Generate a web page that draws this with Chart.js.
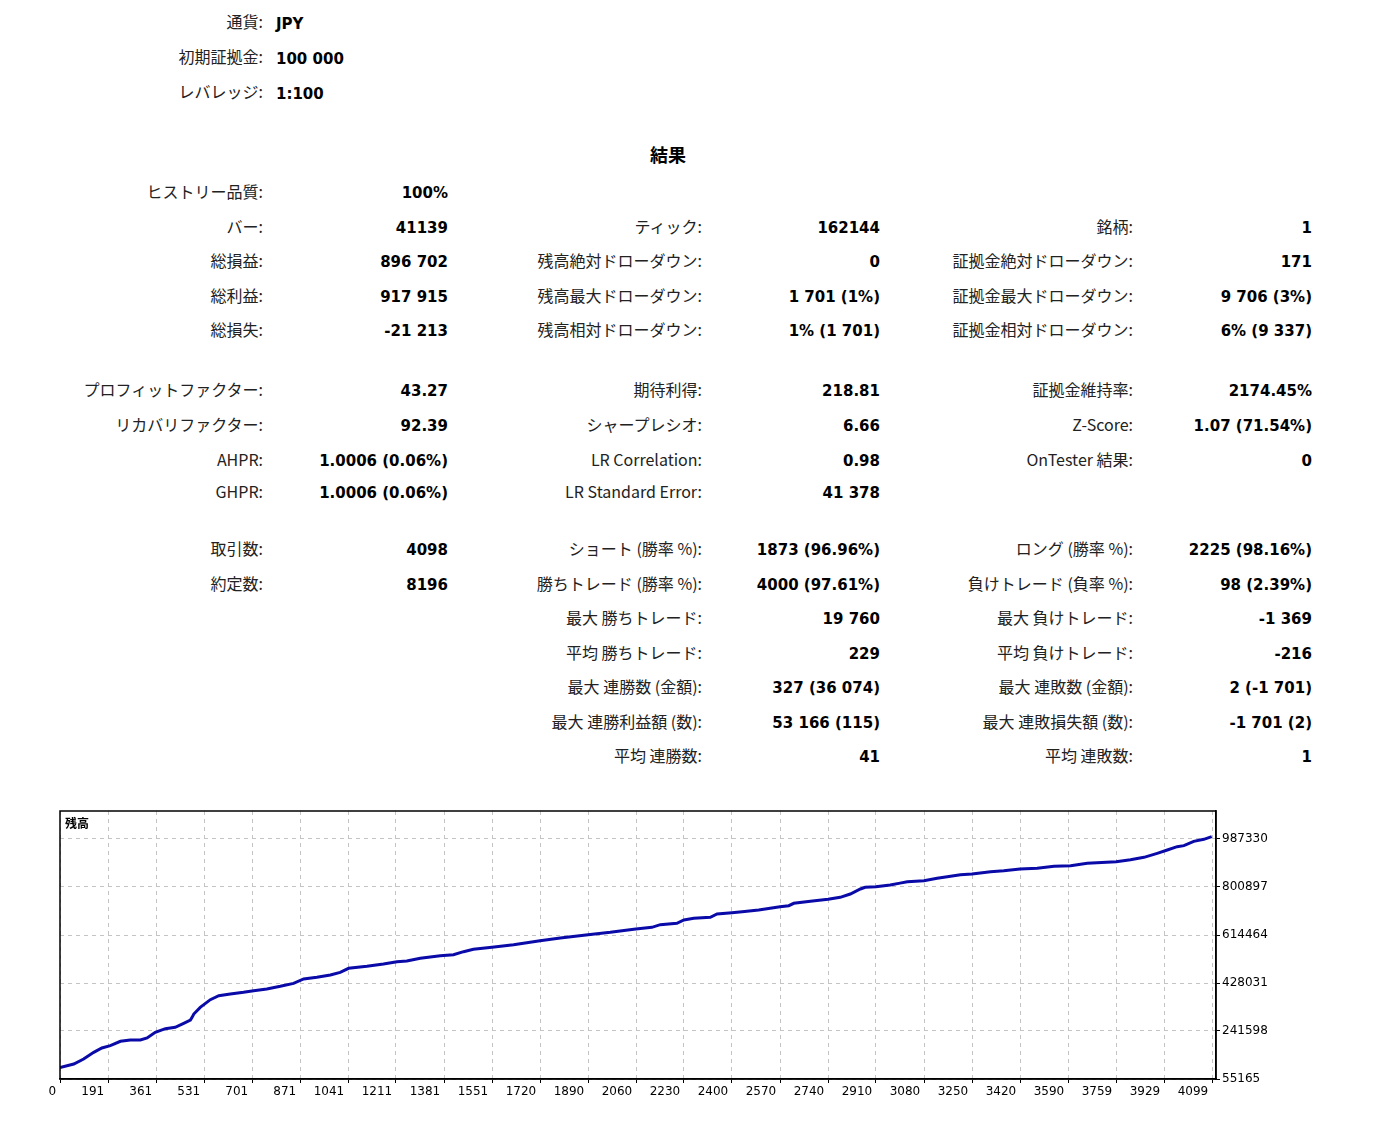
<!DOCTYPE html>
<html>
<head>
<meta charset="utf-8">
<script src="https://cdn.jsdelivr.net/npm/chart.js@4.4.0/dist/chart.umd.min.js"></script>
<style>
  html, body { margin:0; padding:0; background:#fff; }
  body { width:1386px; height:1128px; position:relative; overflow:hidden; }
  .lbl { position:absolute; white-space:nowrap; text-align:right; font-family:"Noto Sans CJK JP","DejaVu Sans",sans-serif; font-size:16px; color:#222; line-height:20px; transform:translateY(-50%); }
  .val { position:absolute; white-space:nowrap; text-align:right; font-family:"DejaVu Sans",sans-serif; font-weight:bold; font-size:15px; color:#000; line-height:20px; transform:translateY(-50%); }
  .hval { text-align:left; }
  #title { position:absolute; left:0; width:1336px; top:154px; text-align:center; font-family:"Noto Sans CJK JP",sans-serif; font-weight:bold; font-size:18px; transform:translateY(-50%); line-height:22px; }
  #chartBox { position:absolute; left:0; top:800px; width:1300px; height:310px; }
  #chartLabel { position:absolute; left:65px; top:816px; font-family:"Noto Sans CJK JP",sans-serif; font-weight:bold; font-size:12px; color:#000; line-height:14px; }
</style>
</head>
<body>
<div id="title">結果</div>
<div id="chartBox"><canvas id="c"></canvas></div>
<div id="chartLabel">残高</div>
<script>
// ---- chart data ----
const balanceX = [0,49,84,120,149,179,215,250,286,310,339,375,410,440,464,470,476,499,535,565,606,653,689,736,784,831,867,914,962,997,1027,1092,1151,1199,1234,1282,1353,1400,1436,1471,1537,1614,1708,1780,1879,1958,2049,2106,2136,2195,2220,2255,2314,2338,2391,2427,2486,2562,2593,2611,2670,2733,2776,2812,2848,2865,2903,2954,2989,3015,3074,3121,3157,3204,3245,3311,3358,3416,3477,3537,3596,3655,3758,3809,3857,3904,3940,3975,3999,4034,4070,4098];
const balanceY = [100000,113400,132800,158700,175600,184600,201500,206600,206600,214400,236400,250700,255800,271400,284300,294700,307600,333500,363300,378800,385300,391800,398300,404700,415100,426700,443600,450000,459100,469500,485000,492800,501800,510900,513500,523800,534200,538100,549700,558800,566600,576900,592500,602800,615800,624800,637800,644300,654600,659800,672700,679200,683100,696000,701200,705100,711600,724500,728400,737500,745200,753000,760800,773700,793100,799600,802200,808700,816000,821600,825500,834600,841000,848800,851400,860500,864400,870800,873400,881200,883800,892800,899300,907100,916100,931700,944600,957600,961500,978300,986100,996702];
const xTickLabels = ['0','191','361','531','701','871','1041','1211','1381','1551','1720','1890','2060','2230','2400','2570','2740','2910','3080','3250','3420','3590','3759','3929','4099'];
const yTickValues = [55165,241598,428031,614464,800897,987330];

// ---- report text ----
const headerRows = [
  [22,'通貨:','JPY'],
  [57,'初期証拠金:','100 000'],
  [92,'レバレッジ:','1:100']
];
const statRows = [
  [192,'ヒストリー品質:','100%','','','',''],
  [227,'バー:','41139','ティック:','162144','銘柄:','1'],
  [261,'総損益:','896 702','残高絶対ドローダウン:','0','証拠金絶対ドローダウン:','171'],
  [296,'総利益:','917 915','残高最大ドローダウン:','1 701 (1%)','証拠金最大ドローダウン:','9 706 (3%)'],
  [330,'総損失:','-21 213','残高相対ドローダウン:','1% (1 701)','証拠金相対ドローダウン:','6% (9 337)'],
  [390,'プロフィットファクター:','43.27','期待利得:','218.81','証拠金維持率:','2174.45%'],
  [425,'リカバリファクター:','92.39','シャープレシオ:','6.66','Z-Score:','1.07 (71.54%)'],
  [460,'AHPR:','1.0006 (0.06%)','LR Correlation:','0.98','OnTester 結果:','0'],
  [492,'GHPR:','1.0006 (0.06%)','LR Standard Error:','41 378','',''],
  [549,'取引数:','4098','ショート (勝率 %):','1873 (96.96%)','ロング (勝率 %):','2225 (98.16%)'],
  [584,'約定数:','8196','勝ちトレード (勝率 %):','4000 (97.61%)','負けトレード (負率 %):','98 (2.39%)'],
  [618,'','','最大 勝ちトレード:','19 760','最大 負けトレード:','-1 369'],
  [653,'','','平均 勝ちトレード:','229','平均 負けトレード:','-216'],
  [687,'','','最大 連勝数 (金額):','327 (36 074)','最大 連敗数 (金額):','2 (-1 701)'],
  [722,'','','最大 連勝利益額 (数):','53 166 (115)','最大 連敗損失額 (数):','-1 701 (2)'],
  [756,'','','平均 連勝数:','41','平均 連敗数:','1']
];
const labelRight = [263, 702, 1133];
const valueRight = [448, 880, 1312];

function addDiv(cls, text, x, y, alignRight) {
  const d = document.createElement('div');
  d.className = cls;
  d.textContent = text;
  if (alignRight) d.style.right = (1386 - x) + 'px'; else d.style.left = x + 'px';
  d.style.top = y + 'px';
  document.body.appendChild(d);
}
headerRows.forEach(r => {
  addDiv('lbl', r[1], 263, r[0] - 1, true);
  addDiv('val hval', r[2], 276, r[0] + 2, false);
});
statRows.forEach(r => {
  for (let c = 0; c < 3; c++) {
    const l = r[1 + c*2], v = r[2 + c*2];
    if (l) addDiv('lbl', l, labelRight[c], r[0] - 1, true);
    if (v) addDiv('val', v, valueRight[c], r[0] + 1, true);
  }
});

// ---- chart ----
const yStep = yTickValues[1] - yTickValues[0];
const yMin = yTickValues[0];
const yMax = yTickValues[0] + yStep * (268 / 48);
const xLast = 4099;
const xStep = xLast / (xTickLabels.length - 1);
const xMax = xLast + xStep * (4 / 48);

const boxPlugin = {
  id: 'box',
  afterDraw(chart) {
    const a = chart.chartArea, ctx = chart.ctx;
    ctx.save();
    ctx.strokeStyle = '#000';
    ctx.lineWidth = 1.5;
    ctx.strokeRect(a.left, a.top, a.right - a.left, a.bottom - a.top);
    ctx.restore();
  }
};

new Chart(document.getElementById('c'), {
  type: 'line',
  data: {
    datasets: [{
      data: balanceX.map((x, i) => ({ x: x, y: balanceY[i] })),
      borderColor: '#0a0aa8',
      borderWidth: 3,
      pointRadius: 0,
      tension: 0,
      fill: false
    }]
  },
  options: {
    responsive: true,
    maintainAspectRatio: false,
    animation: false,
    devicePixelRatio: 1,
    layout: { padding: { left: 60, top: 11, right: 0, bottom: 0 } },
    plugins: { legend: { display: false }, tooltip: { enabled: false } },
    scales: {
      x: {
        type: 'linear',
        min: 0,
        max: xMax,
        afterBuildTicks(scale) {
          scale.ticks = xTickLabels.map((_, i) => ({ value: i * xStep }));
        },
        afterFit(scale) { scale.height = 31; },
        ticks: {
          autoSkip: false, maxRotation: 0, minRotation: 0, padding: 2,
          align: 'end',
          color: '#000',
          font: { family: 'DejaVu Sans', size: 12 },
          callback: (v, i) => xTickLabels[i] + ' '
        },
        grid: { color: '#c4c4c4', lineWidth: 1, drawTicks: true, tickLength: 4, tickColor: '#000', tickBorderDash: [] },
        border: { display: true, color: '#000', width: 1.5, dash: [4, 4] }
      },
      y: {
        type: 'linear',
        position: 'right',
        min: yMin,
        max: yMax,
        afterBuildTicks(scale) {
          scale.ticks = yTickValues.map(v => ({ value: v }));
        },
        afterFit(scale) { scale.width = 84; },
        ticks: {
          padding: 2,
          color: '#000',
          font: { family: 'DejaVu Sans', size: 12 },
          callback: (v) => String(v)
        },
        grid: { color: '#c4c4c4', lineWidth: 1, drawTicks: true, tickLength: 4, tickColor: '#000', tickBorderDash: [] },
        border: { display: true, color: '#000', width: 1.5, dash: [4, 4] }
      }
    }
  },
  plugins: [boxPlugin]
});
</script>
</body>
</html>
